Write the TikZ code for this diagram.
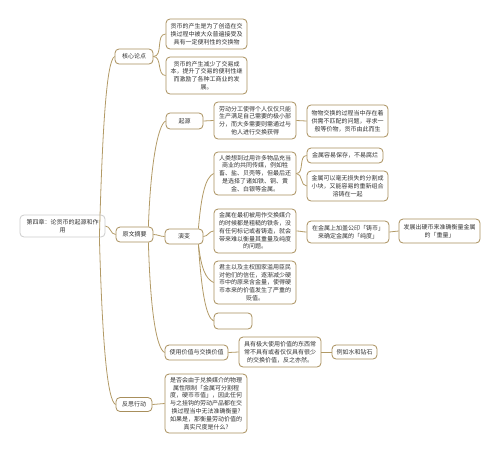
\documentclass[tikz,border=0pt]{standalone}
\usepackage{fontspec}
\newfontfamily\cjk{Noto Sans CJK SC}
\usetikzlibrary{calc}
\definecolor{bord}{HTML}{A88F5C}
\definecolor{linec}{HTML}{B29A66}
\definecolor{txt}{HTML}{333333}
\definecolor{rootb}{HTML}{CCCCCC}
\begin{document}
\begin{tikzpicture}[x=1pt,y=-1pt,
  box/.style={draw=bord,line width=0.8pt,rounded corners=4pt,fill=white,
    text=txt,font=\cjk\fontsize{6}{7.8}\selectfont,align=center,
    inner xsep=2pt,inner ysep=1pt},
  rootbox/.style={box,draw=rootb},
  conn/.style={draw=linec,line width=0.8pt}]
\useasboundingbox (0,0) rectangle (500,453);
% nodes
\node[rootbox,minimum width=85,minimum height=22] (root) at (62.5,226) {第四章：论货币的起源和作\\用};
\node[box,minimum width=37,minimum height=15] (yw) at (134.5,234.5) {原文摘要};
\node[box,minimum width=38,minimum height=15] (kx) at (134,56.5) {核心论点};
\node[box,minimum width=36,minimum height=14] (fs) at (134,404.5) {反思行动};
\node[box,minimum width=81,minimum height=30] (k1) at (206.5,34) {货币的产生是为了创造在交\\换过程中被大众普遍接受及\\具有一定便利性的交换物};
\node[box,minimum width=81,minimum height=37] (k2) at (206.5,75.5) {货币的产生减少了交易成\\本，提升了交易的便利性继\\而激励了各种工商业的发\\展。};
\node[box,minimum width=37,minimum height=16] (qy) at (184.5,121) {起源};
\node[box,minimum width=38,minimum height=15] (yb) at (184,236.5) {演变};
\node[box,minimum width=63,minimum height=15] (us) at (196.5,352.5) {使用价值与交换价值};
\node[box,minimum width=82,minimum height=37] (qy1) at (255,120.5) {劳动分工使得个人仅仅只能\\生产满足自己需要的极小部\\分，而大多需要则需通过与\\他人进行交换获得};
\node[box,minimum width=81,minimum height=32] (qy2) at (347.5,121) {物物交换的过程当中存在着\\供需不匹配的问题，寻求一\\般等价物，货币由此而生};
\node[box,minimum width=82,minimum height=43] (A) at (255,173.5) {人类想到过用许多物品充当\\商业的共同传媒，例如牲\\畜、盐、贝壳等，但最后还\\是选择了诸如铁、铜、黄\\金、白银等金属。};
\node[box,minimum width=76,minimum height=15] (A1) at (345,155.5) {金属容易保存，不易腐烂};
\node[box,minimum width=81,minimum height=30] (A2) at (347.5,186) {金属可以毫无损失的分割成\\小块，又能容易的重新组合\\溶铸在一起};
\node[box,minimum width=82,minimum height=44] (B) at (255,231) {金属在最初被用作交换媒介\\的时候都是粗糙的铁条，没\\有任何标记或者铸造，就会\\带来难以衡量其重量及纯度\\的问题。};
\node[box,minimum width=82,minimum height=22] (B1) at (348,232) {在金属上加盖公印「铸币」\\来确定金属的「纯度」};
\node[box,minimum width=81,minimum height=24] (B2) at (439.5,231) {发展出硬币来准确衡量金属\\的「重量」};
\node[box,minimum width=82,minimum height=43] (C) at (255,282.5) {君主以及主权国家滥用臣民\\对他们的信任，逐渐减少硬\\币中的原来含金量，使得硬\\币本来的价值发生了严重的\\贬值。};
\node[box,minimum width=38,minimum height=16] (E) at (233,321) {};
\node[box,minimum width=82,minimum height=30] (U1) at (280,352) {具有极大使用价值的东西常\\常不具有或者仅仅具有很少\\的交换价值，反之亦然。};
\node[box,minimum width=45,minimum height=14] (U2) at (354.5,352) {例如水和钻石};
\node[box,minimum width=82,minimum height=59] (F1) at (206,403.5) {是否会由于兑换媒介的物理\\属性限制「金属可分割程\\度，硬币币值」，因此任何\\与之挂钩的劳动产品都在交\\换过程当中无法准确衡量?\\如果是，那衡量劳动价值的\\真实尺度是什么?};
% connectors
\begin{scope}[on background layer/.try]
\draw[conn] ($(root.south east)+(-6,0)$) .. controls +(3,-110) and +(-8,4) .. (kx.west);
\draw[conn] (root.east) to[out=0,in=180] (yw.west);
\draw[conn] ($(root.south east)+(-6,0)$) .. controls +(3,110) and +(-8,-4) .. (fs.west);
\draw[conn] ($(yw.north east)+(-5,0)$) .. controls +(2,-60) and +(-8,4) .. (qy.west);
\draw[conn] (yw.east) to[out=0,in=180] (yb.west);
\draw[conn] ($(yw.south east)+(-5,0)$) .. controls +(2,70) and +(-8,-4) .. (us.west);
\draw[conn] (kx.east) to[out=0,in=180] (k1.west);
\draw[conn] (kx.east) to[out=0,in=180] (k2.west);
\draw[conn] (qy.east) -- (qy1.west);
\draw[conn] (qy1.east) -- (qy2.west);
\draw[conn] ($(yb.north east)+(-5,0)$) .. controls +(3,-35) and +(-8,4) .. (A.west);
\draw[conn] (yb.east) to[out=0,in=180] (B.west);
\draw[conn] ($(yb.south east)+(-5,0)$) .. controls +(3,25) and +(-8,-4) .. (C.west);
\draw[conn] ($(yb.south east)+(-5,0)$) .. controls +(3,45) and +(-8,-4) .. (E.west);
\draw[conn] (A.east) to[out=0,in=180] (A1.west);
\draw[conn] (A.east) to[out=0,in=180] (A2.west);
\draw[conn] (B.east) to[out=0,in=180] (B1.west);
\draw[conn] (B1.east) to[out=0,in=180] (B2.west);
\draw[conn] (us.east) -- (U1.west);
\draw[conn] (U1.east) -- (U2.west);
\draw[conn] (fs.east) -- (F1.west);
\end{scope}
\end{tikzpicture}
\end{document}
